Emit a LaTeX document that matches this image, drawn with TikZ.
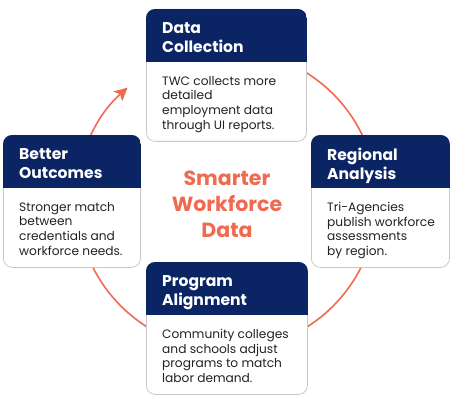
\documentclass[tikz,border=0pt]{standalone}
\usepackage{fontspec}
\setmainfont{Poppins}
\usetikzlibrary{arrows.meta}
\definecolor{navy}{RGB}{11,36,99}
\definecolor{coral}{RGB}{240,106,82}
\definecolor{cardedge}{RGB}{200,200,200}
\definecolor{bodytext}{RGB}{34,34,34}

\begin{document}
\begin{tikzpicture}[x=1pt,y=1pt,
    cardbox/.style={draw=cardedge, line width=0.8pt, fill=white, rounded corners=9pt,
      inner sep=0pt, minimum height=132pt},
    cardtitle/.style={text=white, font=\fontsize{15.6}{19}\selectfont\bfseries,
      align=left, inner sep=0pt},
    cardtext/.style={text=bodytext, font=\fontsize{12.2}{14.7}\selectfont,
      align=left, inner sep=0pt},
    cycleline/.style={draw=coral, line width=1.6pt}]

    \useasboundingbox (0,0) rectangle (455,-401);

    \def\rcycle{150}% radius of the cycle
    \def\hdr{53}% header height

    % card: name, x, y, width, title, text
    \newcommand{\card}[6]
    {
      \node[cardbox, minimum width=#4pt, anchor=north west] (#1) at (#2,-#3) {};
      \begin{scope}
        \clip[rounded corners=9pt] (#1.north west) rectangle (#1.south east);
        \fill[navy] (#1.north west) rectangle ([yshift=-\hdr pt]#1.north east);
      \end{scope}
      \node[cardtitle, anchor=north west] (#1-title) at ([shift={(16pt,-13pt)}]#1.north west) {#5};
      \node[cardtext, anchor=north west] (#1-text) at ([shift={(16pt,-67pt)}]#1.north west) {#6};
    }

    % Cycle
    \coordinate (hub) at (227,-200);
    \draw[cycleline, -{Stealth[length=13pt,width=13pt,inset=3pt]}]
      ([shift={(460:\rcycle pt)}]hub) arc[start angle=460, end angle=131.5, radius=\rcycle pt];

    \node[font=\fontsize{20.5}{26}\selectfont\bfseries, text=coral, align=center, inner sep=0pt]
      (smarter) at (227,-204) {Smarter\\Workforce\\Data};

    % Data Collection
    \card{collect}{146}{9}{160}{Data\\Collection}{TWC collects more\\detailed\\employment data\\through UI reports.};

    % Regional Analysis
    \card{region}{311}{135}{138}{Regional\\Analysis}{Tri-Agencies\\publish workforce\\assessments\\by region.};

    % Program Alignment
    \card{program}{146}{262}{161}{Program\\Alignment}{Community colleges\\and schools adjust\\programs to match\\labor demand.};

    % Better Outcomes
    \card{outcome}{3}{135}{137}{Better\\Outcomes}{Stronger match\\between\\credentials and\\workforce needs.};

\end{tikzpicture}
\end{document}
